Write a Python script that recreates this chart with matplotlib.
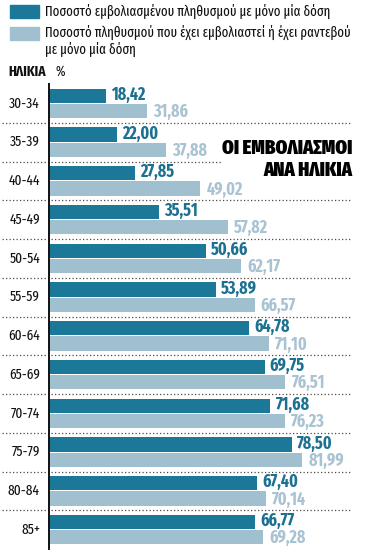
import matplotlib
matplotlib.use("Agg")
import matplotlib.pyplot as plt
from matplotlib import font_manager as fm
import matplotlib.transforms as mtransforms
from matplotlib.patches import Rectangle

ages = ["30-34", "35-39", "40-44", "45-49", "50-54", "55-59",
        "60-64", "65-69", "70-74", "75-79", "80-84", "85+"]
one_dose = [18.42, 22.00, 27.85, 35.51, 50.66, 53.89,
            64.78, 69.75, 71.68, 78.50, 67.40, 66.77]
booked = [31.86, 37.88, 49.02, 57.82, 62.17, 66.57,
          71.10, 76.51, 76.23, 81.99, 70.14, 69.28]
legend_labels = ["Ποσοστό εμβολιασμένου πληθυσμού με μόνο μία δόση",
                 "Ποσοστό πληθυσμού που έχει εμβολιαστεί ή έχει ραντεβού\nμε μόνο μία δόση"]
title = "ΟΙ ΕΜΒΟΛΙΑΣΜΟΙ\nΑΝΑ ΗΛΙΚΙΑ"

names = {f.name for f in fm.fontManager.ttflist}
prefs = ["Fira Sans Extra Condensed", "Fira Sans Condensed", "Roboto Condensed",
         "Open Sans Condensed", "PT Sans Narrow", "Liberation Sans Narrow", "DejaVu Sans"]
NARROW = next(p for p in prefs if p in names)
FAM = [NARROW, "DejaVu Sans"]

DARK = "#1b7899"
LIGHT = "#a0bfcf"
DARK_TXT = "#1c7191"
LIGHT_TXT = "#a9c3d3"

W, H = 367, 554
fig = plt.figure(figsize=(W / 100, H / 100), dpi=100)
ax_l, ax_r, ax_t, ax_b = 49, 352, 84, 549
ax = fig.add_axes([ax_l / W, 1 - ax_b / H, (ax_r - ax_l) / W, (ax_b - ax_t) / H])

n = len(ages)
ys = list(range(n))
off = 0.195
h = 0.37
ax.barh([y - off for y in ys], one_dose, height=h, color=DARK, left=0)
ax.barh([y + off for y in ys], booked, height=h, color=LIGHT, left=0)
ax.set_xlim(0, (ax_r - ax_l) / 3.09)
ax.set_ylim(n - 0.5, -0.5)

for s in ["top", "right", "bottom"]:
    ax.spines[s].set_visible(False)
ax.spines["left"].set_linewidth(1.4)
ax.spines["left"].set_color("#111111")
ax.set_xticks([])
ax.set_yticks([])

trans = mtransforms.blended_transform_factory(ax.transAxes, ax.transData)
x0 = -(ax_l - 2) / (ax_r - ax_l)
for i in range(n - 1):
    ax.plot([x0, 1], [i + 0.5, i + 0.5], transform=trans, color="#4a4a4a",
            lw=0.9, ls=(0, (1, 1.8)), clip_on=False, zorder=1)

for i in range(n):
    ax.annotate(f"{one_dose[i]:.2f}".replace(".", ","), (one_dose[i], i - off),
                xytext=(5, 1), textcoords="offset pixels", va="center", ha="left",
                fontsize=12.5, fontweight="bold", color=DARK_TXT, family=FAM, zorder=6)
    ax.annotate(f"{booked[i]:.2f}".replace(".", ","), (booked[i], i + off),
                xytext=(6, -1), textcoords="offset pixels", va="center", ha="left",
                fontsize=12.5, fontweight="bold", color=LIGHT_TXT, family=FAM, zorder=6)
    ax.text(-9 / (ax_r - ax_l), i, ages[i], transform=trans, ha="right", va="center",
            fontsize=10.5, color="#111111", family=FAM)

# title
ax.text(1.0, 1.45, title, transform=trans, ha="right", va="center",
        fontsize=14.5, fontweight="black", color="#000000", family=FAM,
        linespacing=1.2, multialignment="right",
        bbox=dict(boxstyle="square,pad=0.04", fc="white", ec="none"), zorder=5)

# legend
fig.patches.append(Rectangle((10 / W, 1 - 18 / H), 29 / W, 13 / H, transform=fig.transFigure,
                             color=DARK))
fig.patches.append(Rectangle((10 / W, 1 - 40 / H), 29 / W, 13 / H, transform=fig.transFigure,
                             color=LIGHT))
fig.text(45 / W, 1 - 11.5 / H, legend_labels[0], ha="left", va="center", fontsize=10,
         family=FAM, color="#111111")
fig.text(45 / W, 1 - 25 / H, legend_labels[1], ha="left", va="top", fontsize=10,
         family=FAM, color="#111111", linespacing=1.15)

fig.text(8 / W, 1 - 72 / H, "ΗΛΙΚΙΑ", ha="left", va="center", fontsize=10.5,
         fontweight="bold", family=FAM, color="#111111")
fig.text(55 / W, 1 - 72 / H, "%", ha="left", va="center", fontsize=10,
         family=FAM, color="#111111")

fig.savefig("out.png", dpi=100)
